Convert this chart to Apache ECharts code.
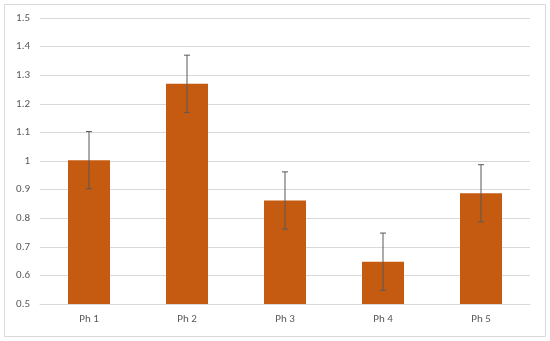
<!DOCTYPE html>
<html><head><meta charset="utf-8">
<script src="https://cdn.jsdelivr.net/npm/echarts@6/dist/echarts.min.js"></script>
<style>html,body{margin:0;padding:0;background:#fff}#c{width:550px;height:341px}</style>
</head><body><div id="c"></div>
<script>
var categories = ['Ph 1','Ph 2','Ph 3','Ph 4','Ph 5'];
var values = [1.003, 1.27, 0.862, 0.648, 0.887];
var errors = [0.1, 0.1, 0.1, 0.1, 0.1];
var yTicks = [0.5, 0.6, 0.7, 0.8, 0.9, 1, 1.1, 1.2, 1.3, 1.4, 1.5];

var chart = echarts.init(document.getElementById('c'), null, {renderer:'canvas'});
var errData = values.map(function(v,i){ return [i, v - errors[i], v + errors[i]]; });
chart.setOption({
  animation:false,
  graphic:[{type:'rect', shape:{x:4.5,y:4.5,width:541,height:332}, style:{fill:'none', stroke:'#d9d9d9', lineWidth:1}, silent:true}],
  grid:{left:40, right:20, top:18, bottom:37},
  xAxis:{type:'category', data:categories,
    axisLine:{show:true, lineStyle:{color:'#d9d9d9'}}, axisTick:{show:false},
    axisLabel:{color:'#595959', fontFamily:'Carlito, Calibri, "Liberation Sans", sans-serif', fontSize:11, margin:10}},
  yAxis:{type:'value', min:0.5, max:1.5, interval:0.1,
    axisLine:{show:false}, axisTick:{show:false},
    splitLine:{lineStyle:{color:'#d9d9d9'}},
    axisLabel:{color:'#595959', fontFamily:'Carlito, Calibri, "Liberation Sans", sans-serif', fontSize:11, margin:10,
      formatter:function(v){ return String(Math.round(v*10)/10); }}},
  series:[
    {type:'bar', data:values, barWidth:42, itemStyle:{color:'#C55A11'}},
    {type:'custom', data:errData, z:10,
      renderItem:function(params, api){
        var x = api.value(0);
        var lo = api.coord([x, api.value(1)]);
        var hi = api.coord([x, api.value(2)]);
        var cap = 3;
        var st = {stroke:'#595959', lineWidth:1};
        return {type:'group', children:[
          {type:'line', shape:{x1:lo[0],y1:lo[1],x2:hi[0],y2:hi[1]}, style:st},
          {type:'line', shape:{x1:lo[0]-cap,y1:lo[1],x2:lo[0]+cap,y2:lo[1]}, style:st},
          {type:'line', shape:{x1:hi[0]-cap,y1:hi[1],x2:hi[0]+cap,y2:hi[1]}, style:st}
        ]};
      }}
  ]
});
</script></body></html>
